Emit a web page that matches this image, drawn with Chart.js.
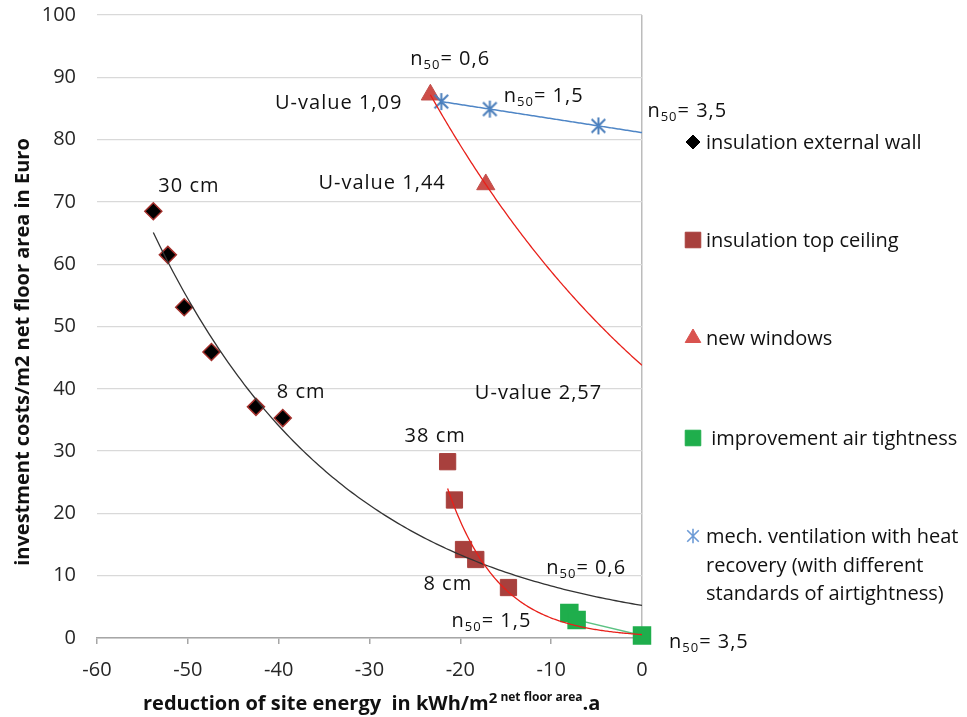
<!DOCTYPE html>
<html>
<head>
<meta charset="utf-8">
<script src="https://cdn.jsdelivr.net/npm/chart.js@4.4.1/dist/chart.umd.min.js"></script>
<style>
  html, body { margin: 0; padding: 0; background: #fff; }
  #chart { display: block; }
</style>
</head>
<body>
<canvas id="chart" width="967" height="717"></canvas>
<script>
// values
const wallX = [-53.8, -52.2, -50.4, -47.4, -42.5, -39.55];
const wallY = [68.5, 61.5, 53.1, 45.9, 37.1, 35.3];
const ceilingX = [-21.4, -20.65, -19.65, -18.3, -14.7];
const ceilingY = [28.3, 22.15, 14.2, 12.6, 8.1];
const windowsX = [-23.3, -17.2];
const windowsY = [87.2, 72.8];
const airX = [-8.0, -7.2, 0];
const airY = [4.0, 2.9, 0.4];
const ventX = [-22.1, -16.75, -4.8];
const ventY = [86.1, 84.9, 82.2];

const xTicks = [-60, -50, -40, -30, -20, -10, 0];
const yTicks = [0, 10, 20, 30, 40, 50, 60, 70, 80, 90, 100];

const seriesNames = [
    ['insulation external wall'],
    ['insulation top ceiling'],
    ['new windows'],
    [' improvement air tightness'],
    ['mech. ventilation with heat', 'recovery (with different', 'standards of airtightness)']
];

const FONT = "'Open Sans', sans-serif";
Chart.defaults.font.family = FONT;
Chart.defaults.font.size = 20;
Chart.defaults.color = '#262626';

const toPoints = (xs, ys) => xs.map((v, i) => ({ x: v, y: ys[i] }));

// excel style least squares trendlines
function expFit(pts) {
    const n = pts.length;
    const mx = pts.reduce((s, p) => s + p.x, 0) / n;
    const my = pts.reduce((s, p) => s + Math.log(p.y), 0) / n;
    let sxy = 0, sxx = 0;
    pts.forEach(p => { sxy += (p.x - mx) * (Math.log(p.y) - my); sxx += (p.x - mx) ** 2; });
    const b = sxy / sxx;
    const a = Math.exp(my - b * mx);
    return x => a * Math.exp(b * x);
}
function linFit(pts) {
    const n = pts.length;
    const mx = pts.reduce((s, p) => s + p.x, 0) / n;
    const my = pts.reduce((s, p) => s + p.y, 0) / n;
    let sxy = 0, sxx = 0;
    pts.forEach(p => { sxy += (p.x - mx) * (p.y - my); sxx += (p.x - mx) ** 2; });
    const m = sxy / sxx;
    return x => my + m * (x - mx);
}

//asterisk marker like the excel one
function makeStar(size, color, lw) {
    const c = document.createElement('canvas');
    c.width = size; c.height = size;
    const g = c.getContext('2d');
    const m = size / 2, r = size / 2 - lw / 2;
    g.strokeStyle = color;
    g.lineWidth = lw;
    g.beginPath();
    g.moveTo(m, m - r); g.lineTo(m, m + r);
    g.moveTo(m - r * 0.8, m - r * 0.8); g.lineTo(m + r * 0.8, m + r * 0.8);
    g.moveTo(m + r * 0.8, m - r * 0.8); g.lineTo(m - r * 0.8, m + r * 0.8);
    g.stroke();
    return c;
}
const starBig = makeStar(19, '#4a7ebb', 2);
const starSmall = makeStar(16, '#6d9bd6', 1.6);

const datasets = [
    {
        data: toPoints(wallX, wallY), pointStyle: 'rectRot', pointRadius: 8.5,
        backgroundColor: '#000', borderColor: '#a3302c', borderWidth: 1.5, order: 3
    },
    {
        data: toPoints(ceilingX, ceilingY), pointStyle: 'rect', pointRadius: 11.5,
        backgroundColor: '#a8403d', borderColor: '#a8403d', borderWidth: 1, order: 4
    },
    {
        data: toPoints(windowsX, windowsY), pointStyle: 'triangle', pointRadius: 10.5,
        backgroundColor: '#cd4d48', borderColor: '#c0504d', borderWidth: 1, order: 5
    },
    {
        data: toPoints(airX, airY), pointStyle: 'rect', pointRadius: 12,
        backgroundColor: '#1fae4c', pointBorderColor: '#1fae4c', borderColor: '#5cc283',
        borderWidth: 1.5, showLine: true, order: 2
    },
    {
        data: toPoints(ventX, ventY), pointStyle: starBig, pointRadius: 9,
        backgroundColor: '#4a7ebb', borderColor: '#4a7ebb', order: 1
    }
];
datasets.forEach(d => { d.clip = false; d.pointHoverRadius = d.pointRadius; });

const legendMarkers = [
    { pointStyle: 'rectRot', radius: 7, fill: '#000', stroke: '#000' },
    { pointStyle: 'rect', radius: 11, fill: '#a8403d', stroke: '#a8403d' },
    { pointStyle: 'triangle', radius: 9, fill: '#d9534f', stroke: '#d9534f' },
    { pointStyle: 'rect', radius: 11, fill: '#1fae4c', stroke: '#1fae4c' },
    { pointStyle: starSmall, radius: 8, fill: '#6d9bd6', stroke: '#6d9bd6' }
];

const trends = [
    { ds: 0, fit: expFit, color: '#333333', width: 1.3 },
    { ds: 1, fit: expFit, color: '#e8201a', width: 1.3 },
    { ds: 2, fit: expFit, color: '#e8201a', width: 1.3 },
    { ds: 4, fit: linFit, color: '#4f86c6', width: 1.5 }
];

// annotations, tied to a point (ds,i) or to axis values (at)
const annotations = [
    { ds: 0, i: 0, text: ['30 cm'], dx: 5, dy: -26 },
    { ds: 0, i: 5, text: ['8 cm'], dx: -6, dy: -27 },
    { ds: 1, i: 0, text: ['38 cm'], dx: -43, dy: -27 },
    { ds: 1, i: 4, text: ['8 cm'], dx: -85, dy: -5 },
    { ds: 2, i: 0, text: ['U-value 1,09'], dx: -28, dy: 7, align: 'right' },
    { ds: 2, i: 1, text: ['U-value 1,44'], dx: -40, dy: -2, align: 'right' },
    { at: [-18.4, 39.5], text: ['U-value 2,57'], dx: 0, dy: 0 },
    { ds: 4, i: 0, text: ['n', '50', '= 0,6'], dx: -31, dy: -44 },
    { ds: 4, i: 1, text: ['n', '50', '= 1,5'], dx: 14, dy: -14 },
    { ds: 4, i: 2, text: ['n', '50', '= 3,5'], dx: 49, dy: -16 },
    { ds: 3, i: 0, text: ['n', '50', '= 0,6'], dx: -23, dy: -46 },
    { ds: 3, i: 1, text: ['n', '50', '= 1,5'], dx: -125, dy: 0 },
    { ds: 3, i: 2, text: ['n', '50', '= 3,5'], dx: 27, dy: 5 }
];

//draw a row of text pieces, every 2nd piece is a subscript
function drawPieces(ctx, parts, x, y, align) {
    const fonts = parts.map((p, k) => k % 2 ? '13px ' + FONT : '20px ' + FONT);
    let w = 0;
    parts.forEach((p, k) => { ctx.font = fonts[k]; w += ctx.measureText(p).width; });
    let cx = align === 'right' ? x - w : x;
    parts.forEach((p, k) => {
        ctx.font = fonts[k];
        ctx.fillText(p, cx, k % 2 ? y + 4 : y);
        cx += ctx.measureText(p).width;
    });
}

const trendPlugin = {
    id: 'trendlines',
    afterDatasetsDraw(chart) {
        const { ctx, chartArea: a, scales: { x, y } } = chart;
        ctx.save();
        ctx.beginPath();
        ctx.rect(a.left, a.top, a.width, a.height);
        ctx.clip();
        trends.forEach(t => {
            const pts = chart.data.datasets[t.ds].data;
            const f = t.fit(pts);
            const x0 = Math.min(...pts.map(p => p.x)), x1 = x.max;
            ctx.beginPath();
            for (let k = 0; k <= 150; k++) {
                const xv = x0 + (x1 - x0) * k / 150;
                const px = x.getPixelForValue(xv), py = y.getPixelForValue(f(xv));
                if (k === 0) ctx.moveTo(px, py); else ctx.lineTo(px, py);
            }
            ctx.strokeStyle = t.color;
            ctx.lineWidth = t.width;
            ctx.stroke();
        });
        ctx.restore();
    }
};

const textPlugin = {
    id: 'texts',
    afterDraw(chart) {
        const { ctx, scales: { x, y } } = chart;
        ctx.save();
        ctx.fillStyle = '#111';
        ctx.textBaseline = 'alphabetic';
        ctx.textAlign = 'left';

        // labels in the plot
        ctx.letterSpacing = '1px';
        annotations.forEach(l => {
            let px, py;
            if (l.at) { px = x.getPixelForValue(l.at[0]); py = y.getPixelForValue(l.at[1]); }
            else { const el = chart.getDatasetMeta(l.ds).data[l.i]; px = el.x; py = el.y; }
            drawPieces(ctx, l.text, px + l.dx, py + l.dy + 7, l.align);
        });
        ctx.letterSpacing = '0px';

        // legend
        const legendY = [142, 240, 338, 438, 536];
        seriesNames.forEach((lines, k) => {
            const m = legendMarkers[k];
            ctx.fillStyle = m.fill;
            ctx.strokeStyle = m.stroke;
            Chart.helpers.drawPoint(ctx, { pointStyle: m.pointStyle, radius: m.radius, rotation: 0, borderWidth: 1 }, 693, legendY[k]);
            ctx.fillStyle = '#111';
            ctx.font = '20px ' + FONT;
            lines.forEach((s, j) => ctx.fillText(s, 706, legendY[k] + 7 + j * 28.5));
        });

        // axis titles
        ctx.font = 'bold 20px ' + FONT;
        ctx.save();
        ctx.translate(29, 352);
        ctx.rotate(-Math.PI / 2);
        ctx.textAlign = 'center';
        ctx.fillText('investment costs/m2 net floor area in Euro', 0, 0);
        ctx.restore();

        const xTitle = [
            { t: 'reduction of site energy  in kWh/m', f: 'bold 20px ', dy: 0 },
            { t: '2', f: 'bold 15px ', dy: -7 },
            { t: ' net floor area', f: 'bold 12px ', dy: -9 },
            { t: '.a', f: 'bold 20px ', dy: 0 }
        ];
        let cx = 143;
        xTitle.forEach(p => {
            ctx.font = p.f + FONT;
            ctx.fillText(p.t, cx, 710 + p.dy);
            cx += ctx.measureText(p.t).width;
        });
        ctx.restore();
    }
};

new Chart(document.getElementById('chart'), {
    type: 'scatter',
    data: { datasets },
    options: {
        responsive: false,
        animation: false,
        layout: { autoPadding: false, padding: { left: 42, right: 325, top: 15, bottom: 0 } },
        plugins: {
            legend: { display: false },
            tooltip: { enabled: false }
        },
        scales: {
            x: {
                type: 'linear', min: xTicks[0], max: xTicks[xTicks.length - 1],
                afterBuildTicks: s => { s.ticks = xTicks.map(v => ({ value: v })); },
                afterFit: s => { s.height = 79; },
                ticks: { padding: 14 },
                grid: {
                    color: c => (c.tick && c.tick.value === 0) ? '#bcbcbc' : 'rgba(0,0,0,0)',
                    tickColor: '#a6a6a6', tickLength: 6, lineWidth: 1.5
                },
                border: { color: '#a6a6a6', width: 1.5 }
            },
            y: {
                min: yTicks[0], max: yTicks[yTicks.length - 1],
                afterBuildTicks: s => { s.ticks = yTicks.map(v => ({ value: v })); },
                afterFit: s => { s.width = 55; },
                ticks: { padding: 3 },
                grid: { color: '#d9d9d9', lineWidth: 1.3, drawTicks: true, tickLength: 18, tickColor: 'rgba(0,0,0,0)' },
                border: { display: false }
            }
        }
    },
    plugins: [trendPlugin, textPlugin]
});
</script>
</body>
</html>
